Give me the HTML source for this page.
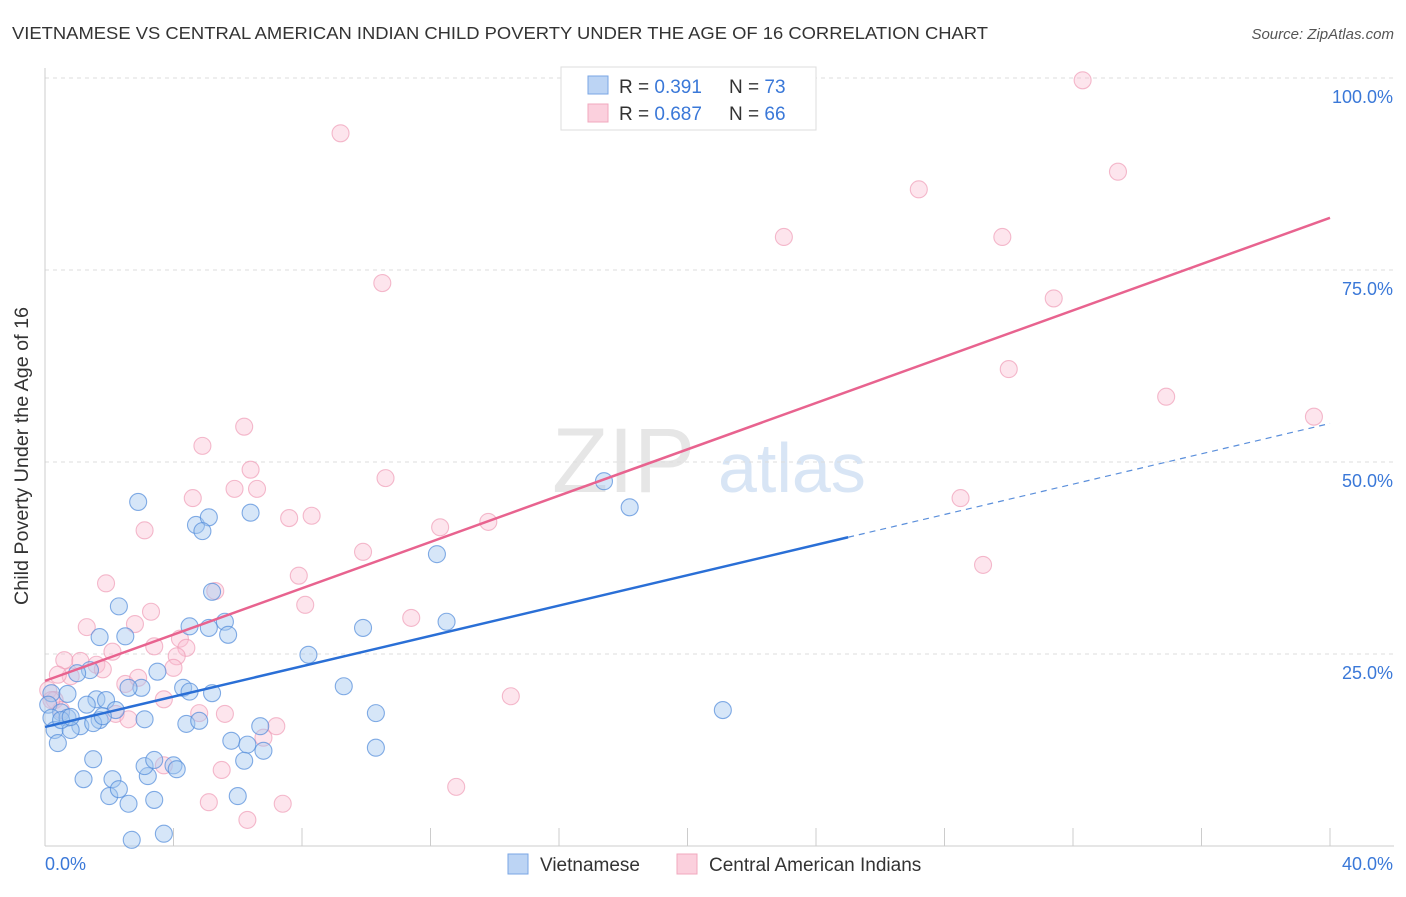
<!DOCTYPE html>
<html><head><meta charset="utf-8"><style>
body{margin:0;background:#fff;font-family:"Liberation Sans",sans-serif;}
svg text{font-family:"Liberation Sans",sans-serif;}
</style></head><body>
<svg id="chart" width="1406" height="892" xmlns="http://www.w3.org/2000/svg">
<text x="12" y="39" font-size="17.5" fill="#333" textLength="976" lengthAdjust="spacingAndGlyphs">VIETNAMESE VS CENTRAL AMERICAN INDIAN CHILD POVERTY UNDER THE AGE OF 16 CORRELATION CHART</text>
<text x="1394" y="39" font-size="15" fill="#555" font-style="italic" text-anchor="end">Source: ZipAtlas.com</text>
<g>
<text x="552" y="492" font-size="92" fill="#e6e6e6" font-family="Liberation Serif">ZIP</text>
<text x="718" y="492" font-size="70" fill="#d8e5f5">atlas</text>
</g>
<g id="grid"></g>
<g id="axes"></g>
<g id="pinkpts"></g>
<g id="bluepts"></g>
<g id="lines"></g>
<text x="28" y="456" font-size="19" fill="#333" text-anchor="middle" textLength="298" lengthAdjust="spacingAndGlyphs" transform="rotate(-90 28 456)">Child Poverty Under the Age of 16</text>
<g>
<rect x="561" y="67" width="255" height="63" fill="#fff" stroke="#ddd"/>
<rect x="588" y="76" width="20" height="18" fill="#bcd4f4" stroke="#7aa6e4"/>
<rect x="588" y="104" width="20" height="18" fill="#fbd0dd" stroke="#f0a8be"/>
<text x="619" y="93" font-size="19" fill="#333">R = <tspan fill="#3a78d8">0.391</tspan></text>
<text x="729" y="93" font-size="19" fill="#333">N = <tspan fill="#3a78d8">73</tspan></text>
<text x="619" y="120" font-size="19" fill="#333">R = <tspan fill="#3a78d8">0.687</tspan></text>
<text x="729" y="120" font-size="19" fill="#333">N = <tspan fill="#3a78d8">66</tspan></text>
</g>
<g>
<rect x="508" y="854" width="20" height="20" fill="#bcd4f4" stroke="#7aa6e4"/>
<text x="540" y="871" font-size="19" fill="#333">Vietnamese</text>
<rect x="677" y="854" width="20" height="20" fill="#fbd0dd" stroke="#f0a8be"/>
<text x="709" y="871" font-size="19" fill="#333">Central American Indians</text>
</g>
</svg>
<script>
const blueX=[2.9,4.7,5.1,4.9,6.4,5.2,2.3,5.6,4.5,5.1,5.7,1.7,2.5,8.2,9.9,12.5,12.2,17.4,18.2,21.1,9.3,10.3,10.3,0.2,0.7,0.1,0.5,0.2,0.7,1.1,0.3,0.8,0.4,1.4,1.0,1.6,1.9,2.2,1.7,3.0,2.6,3.5,4.3,4.5,5.2,3.1,4.4,4.8,5.8,6.3,6.7,6.8,6.2,1.5,1.2,2.1,3.2,3.1,4.0,4.1,2.0,2.3,2.6,3.4,6.0,2.7,3.7,0.5,1.3,1.5,0.8,1.8,3.4];
const blueY=[44.8,41.8,42.8,41.0,43.4,33.1,31.2,29.2,28.6,28.4,27.5,27.2,27.3,24.9,28.4,29.2,38.0,47.5,44.1,17.7,20.8,17.3,12.8,19.9,19.8,18.4,17.4,16.7,16.7,15.6,15.1,15.1,13.4,22.9,22.5,19.1,19.0,17.7,16.4,20.6,20.6,22.7,20.6,20.1,19.9,16.5,15.9,16.3,13.7,13.2,15.6,12.4,11.1,11.3,8.7,8.7,9.1,10.4,10.5,10.0,6.5,7.4,5.5,6.0,6.5,0.8,1.6,16.4,18.4,16.0,16.8,16.9,11.2];
const pinkX=[9.2,32.3,33.4,27.2,23.0,29.8,10.5,31.4,30.0,34.9,39.5,28.5,29.2,4.9,6.2,6.4,10.6,5.9,6.6,4.6,7.6,8.3,3.1,12.3,13.8,9.9,1.9,7.9,5.3,8.1,3.3,11.4,1.3,2.8,4.2,3.4,4.4,2.1,0.6,1.1,1.6,4.1,0.8,1.8,4.0,2.5,2.9,3.7,14.5,0.1,0.3,0.5,2.2,2.6,4.8,5.6,7.2,6.8,3.7,5.5,12.8,5.1,7.4,6.3,0.4,0.2];
const pinkY=[92.8,99.7,87.8,85.5,79.3,79.3,73.3,71.3,62.1,58.5,55.9,45.3,36.6,52.1,54.6,49.0,47.9,46.5,46.5,45.3,42.7,43.0,41.1,41.5,42.2,38.3,34.2,35.2,33.2,31.4,30.5,29.7,28.5,28.9,27.0,26.0,25.8,25.3,24.2,24.1,23.6,24.7,22.1,23.0,23.2,21.1,21.9,19.1,19.5,20.3,19.0,17.7,17.2,16.5,17.3,17.2,15.6,14.1,10.5,9.9,7.7,5.7,5.5,3.4,22.3,19.0];
const yTicks=[25,50,75,100];
const yTickLabels=["25.0%","50.0%","75.0%","100.0%"];
const xTicks=[0,4,8,12,16,20,24,28,32,36,40];
const blueTrend=[15.5,0.988];
const pinkTrend=[21.5,1.5075];
const blueSolidEnd=25;

const NS="http://www.w3.org/2000/svg";
const X0=45,X1=1330,Y0=846,Y100=78;
const sx=v=>X0+(X1-X0)*v/40;
const sy=v=>Y0-(Y0-Y100)*v/100;
function mk(tag,attrs,parent){const e=document.createElementNS(NS,tag);for(const k in attrs)e.setAttribute(k,attrs[k]);parent.appendChild(e);return e;}
const grid=document.getElementById('grid'),axes=document.getElementById('axes');
yTicks.forEach((t,i)=>{
 const l=mk('line',{x1:X0,x2:1394,y1:sy(t),y2:sy(t),stroke:'#ddd','stroke-dasharray':'4,4'},grid);
 
 
 const tx=mk('text',{x:1393,y:sy(t)+25,'font-size':18,fill:'#3a78d8','text-anchor':'end'},axes);
 tx.textContent=yTickLabels[i];
 
 
});
const ax=mk('line',{x1:X0,x2:1394,y1:Y0,y2:Y0,stroke:'#ccc'},axes);


const ay=mk('line',{x1:X0,x2:X0,y1:68,y2:Y0,stroke:'#ccc'},axes);


xTicks.forEach(t=>{
 const l=mk('line',{x1:sx(t),x2:sx(t),y1:828,y2:Y0,stroke:'#ccc'},axes);
 
 
});
const xl0=mk('text',{x:45,y:870,'font-size':18,fill:'#3a78d8'},axes);xl0.textContent='0.0%';


const xl1=mk('text',{x:1393,y:870,'font-size':18,fill:'#3a78d8','text-anchor':'end'},axes);xl1.textContent='40.0%';


const pg=document.getElementById('pinkpts');
pinkX.forEach((x,i)=>{
 const c=mk('circle',{cx:sx(x),cy:sy(pinkY[i]),r:8.5,fill:'rgba(250,190,210,0.4)',stroke:'rgba(238,150,178,0.65)','stroke-width':1.1},pg);
 
 
});
const bg=document.getElementById('bluepts');
blueX.forEach((x,i)=>{
 const c=mk('circle',{cx:sx(x),cy:sy(blueY[i]),r:8.5,fill:'rgba(165,200,240,0.45)',stroke:'rgba(80,138,218,0.7)','stroke-width':1.1},bg);
 
 
});
const lg=document.getElementById('lines');
const f=(tr,x)=>tr[0]+tr[1]*x;
const pl=mk('line',{x1:sx(0),y1:sy(f(pinkTrend,0)),x2:sx(40),y2:sy(f(pinkTrend,40)),stroke:'#e8638f','stroke-width':2.5},lg);


const bl=mk('line',{x1:sx(0),y1:sy(f(blueTrend,0)),x2:sx(blueSolidEnd),y2:sy(f(blueTrend,blueSolidEnd)),stroke:'#2a6fd6','stroke-width':2.5},lg);


const bd=mk('line',{x1:sx(blueSolidEnd),y1:sy(f(blueTrend,blueSolidEnd)),x2:sx(40),y2:sy(f(blueTrend,40)),stroke:'#5b8fdb','stroke-width':1.2,'stroke-dasharray':'6,5'},lg);


</script>
</body></html>
